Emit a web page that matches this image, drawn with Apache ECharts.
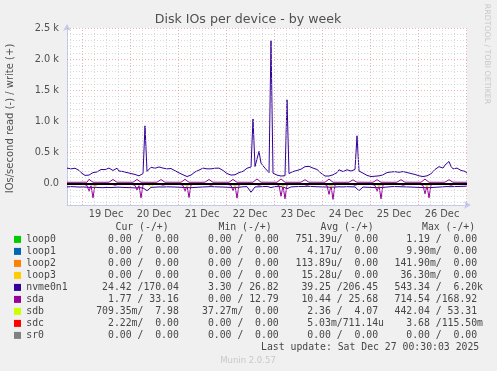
<!DOCTYPE html>
<html>
<head>
<meta charset="utf-8">
<script src="https://cdn.jsdelivr.net/npm/echarts@6/dist/echarts.min.js"></script>
<style>
html,body{margin:0;padding:0;background:#f0f0f0;}
#chart{width:497px;height:371px;}
</style>
</head>
<body>
<div id="chart"></div>
<script>
// ---------- data (hours since 18 Dec 16:30) ----------
const devices = ['loop0','loop1','loop2','loop3','nvme0n1','sda','sdb','sdc','sr0'];
const deviceColors = ['#00CC00','#0066B3','#FF8000','#FFCC00','#330099','#990099','#CCFF00','#FF0000','#808080'];

// nvme0n1 write (+), 1 h step
const nvmeWrite = [
252,252,240,225,250,278,215,180,150,135,
128,140,160,180,175,190,220,230,235,228,
240,252,230,214,240,250,205,197,197,185,
180,171,165,160,150,140,128,140,165,930,
200,230,265,289,250,235,270,265,252,235,
240,252,245,235,210,190,175,160,145,125,
117,125,140,170,190,200,220,240,252,230,
240,252,240,235,250,245,252,240,214,185,
165,150,140,128,145,165,180,190,200,225,
250,260,270,1040,278,290,520,332,290,250,
225,180,2295,171,150,140,128,125,128,130,
1348,165,185,197,210,214,220,235,252,275,
289,280,265,252,240,230,200,170,145,125,
117,125,135,144,160,180,225,210,197,215,
225,200,205,225,230,770,205,185,171,150,
135,120,117,128,122,117,128,135,144,165,
180,197,190,181,195,197,185,181,197,190,
181,171,165,160,150,144,128,122,117,125,
128,140,160,197,230,252,275,289,252,300,
332,358,278,240,230,252,225,214,225,200,171
];
// nvme0n1 read (-), 2 h step
const nvmeRead = [
-50,-45,-48,-52,-50,-55,-58,-56,-60,-62,
-58,-60,-56,-54,-58,-60,-62,-65,-62,-66,
-110,-58,-54,-50,-52,-48,-50,-52,-55,-58,
-60,-62,-58,-54,-50,-48,-45,-48,-50,-52,
-55,-58,-60,-55,-48,-45,-135,-50,-48,-45,
-42,-60,-44,-46,-48,-80,-50,-46,-44,-42,
-40,-42,-46,-48,-50,-52,-55,-52,-48,-50,
-46,-48,-50,-110,-52,-55,-58,-60,-62,-58,
-52,-46,-44,-46,-48,-50,-52,-55,-58,-60,
-62,-60,-56,-52,-48,-44,-46,-44,-42,-40,-38
];
// sda write (+), 1 h step
const sdaWrite = [
25,25,24,26,25,25,24,25,26,25,25,72,70,25,24,25,26,25,25,24,25,26,25,70,
72,25,24,26,25,25,24,25,26,25,25,70,72,25,24,25,26,25,25,24,25,26,25,68,
70,25,24,26,25,25,24,25,26,25,25,72,70,25,24,25,26,25,25,24,25,26,25,70,
68,25,24,26,25,25,24,25,26,25,25,70,72,25,24,25,26,25,25,24,25,26,25,78,
80,25,24,26,25,25,24,25,26,25,25,78,80,25,24,25,26,25,25,24,25,26,25,66,
64,25,24,26,25,25,24,25,26,25,25,76,78,25,24,25,26,25,25,24,25,26,25,64,
66,25,24,26,25,25,24,25,26,25,25,66,64,25,24,25,26,25,25,24,25,26,25,66,
64,25,24,26,25,25,24,25,26,25,25,76,78,25,24,25,26,25,25,24,25,26,25,66,
64,25,24,26,25,25,24,25,26
];
// sda read (-), 1 h step
const sdaRead = [
-5,-5,-6,-5,-4,-5,-6,-5,-5,-5,-25,-120,-30,-225,-15,-5,-6,-5,-4,-5,-5,-6,-5,-22,
-22,-5,-6,-5,-4,-5,-6,-5,-5,-5,-25,-100,-30,-225,-15,-5,-6,-5,-4,-5,-5,-6,-5,-22,
-22,-5,-6,-5,-4,-5,-6,-5,-5,-5,-25,-120,-30,-220,-15,-5,-6,-5,-4,-5,-5,-6,-5,-22,
-22,-5,-6,-5,-4,-5,-6,-5,-5,-5,-25,-110,-30,-230,-15,-5,-6,-5,-4,-5,-5,-6,-5,-22,
-22,-5,-6,-5,-4,-5,-6,-5,-5,-5,-25,-200,-30,-240,-15,-5,-6,-5,-4,-5,-5,-6,-5,-22,
-22,-5,-6,-5,-4,-5,-6,-5,-5,-5,-25,-170,-30,-250,-15,-5,-6,-5,-4,-5,-5,-6,-5,-22,
-22,-5,-6,-5,-4,-5,-6,-5,-5,-5,-25,-120,-30,-240,-15,-5,-6,-5,-4,-5,-5,-6,-5,-22,
-22,-5,-6,-5,-4,-5,-6,-5,-5,-5,-25,-160,-30,-225,-15,-5,-6,-5,-4,-5,-5,-6,-5,-22,
-22,-5,-6,-5,-4,-5,-6,-5,-5
];
// sdb read (-), 2 h step
const sdbRead = [
-2,-2,-2,-2,-2,-2,-2,-45,-2,-2,
-2,-2,-2,-2,-2,-2,-2,-2,-2,-2,
-2,-45,-2,-2,-2,-2,-2,-2,-2,-2,
-45,-2,-2,-2,-2,-2,-2,-2,-2,-2,
-2,-2,-45,-2,-2,-2,-2,-2,-2,-2,
-2,-2,-2,-2,-45,-2,-2,-2,-2,-2,
-2,-2,-2,-2,-2,-2,-45,-2,-2,-2,
-2,-2,-2,-2,-2,-2,-2,-2,-45,-2,
-2,-2,-2,-2,-2,-2,-2,-2,-2,-2,
-45,-2,-2,-2,-2,-2,-2,-2,-2,-2,-2
];
// flat devices: value at start and end of the week (200 h step)
const sdbWrite = [4, 4];
const sdcRead = [0, 0];
const sdcWrite = [1, 1];
const loopRead = [0, 0];
const loopWrite = [0, 0];
const sr0Values = [0, 0];

// axis ticks
const yTickValues = [0, 500, 1000, 1500, 2000, 2500];
const yTickLabels = ['0.0', '0.5 k', '1.0 k', '1.5 k', '2.0 k', '2.5 k'];
const xDayHours = [19.5, 43.5, 67.5, 91.5, 115.5, 139.5, 163.5, 187.5];
const xDayLabels = ['19 Dec', '20 Dec', '21 Dec', '22 Dec', '23 Dec', '24 Dec', '25 Dec', '26 Dec'];
const xMidnights = [7.5, 31.5, 55.5, 79.5, 103.5, 127.5, 151.5, 175.5, 199.5];

// legend table
const curCol = ['0.00 /  0.00','0.00 /  0.00','0.00 /  0.00','0.00 /  0.00','24.42 /170.04','1.77 / 33.16','709.35m/  7.98','2.22m/  0.00','0.00 /  0.00'];
const minCol = ['0.00 /  0.00','0.00 /  0.00','0.00 /  0.00','0.00 /  0.00','3.30 / 26.82','0.00 / 12.79','37.27m/  0.00','0.00 /  0.00','0.00 /  0.00'];
const avgCol = ['751.39u/  0.00','4.17u/  0.00','113.89u/  0.00','15.28u/  0.00','39.25 /206.45','10.44 / 25.68','2.36 /  4.07','5.03m/711.14u','0.00 /  0.00'];
const maxCol = ['1.19 /  0.00','9.90m/  0.00','141.90m/  0.00','36.30m/  0.00','543.34 /  6.20k','714.54 /168.92','442.04 / 53.31','3.68 /115.50m','0.00 /  0.00'];
const headers = ['Cur (-/+)', 'Min (-/+)', 'Avg (-/+)', 'Max (-/+)'];
const lastUpdate = 'Last update: Sat Dec 27 00:30:03 2025';

// ---------- chart ----------
function pts(values, step) { return values.map((v, i) => [i * step, v]); }

const minorGrid = 'rgba(185,185,185,0.55)';
const majorGrid = 'rgba(230,135,135,0.65)';
const gridMarks = [];
for (let v = -300; v <= 2500; v += 100) {
  const major = v % 500 === 0;
  gridMarks.push({ yAxis: v, lineStyle: { color: major ? majorGrid : minorGrid, type: [1, 2], width: 1 } });
}
for (let h = 1.5; h <= 200; h += 6) {
  const major = xMidnights.indexOf(h) >= 0;
  gridMarks.push({ xAxis: h, lineStyle: { color: major ? majorGrid : minorGrid, type: [1, 2], width: 1 } });
}

function line(name, data, color, extra) {
  return Object.assign({
    type: 'line', name: name, data: data, showSymbol: false, symbol: 'none',
    lineStyle: { color: color, width: 1 }, itemStyle: { color: color },
    silent: true, animation: false, z: 2
  }, extra || {});
}

const series = [
  line('grid', [[0, 0]], 'rgba(0,0,0,0)', {
    z: 1,
    markLine: { silent: true, symbol: 'none', label: { show: false }, animation: false, data: gridMarks }
  }),
  line('loop0', pts(loopRead, 200), deviceColors[0]),
  line('loop0', pts(loopWrite, 200), deviceColors[0]),
  line('loop1', pts(loopRead, 200), deviceColors[1]),
  line('loop1', pts(loopWrite, 200), deviceColors[1]),
  line('loop2', pts(loopRead, 200), deviceColors[2]),
  line('loop2', pts(loopWrite, 200), deviceColors[2]),
  line('loop3', pts(loopRead, 200), deviceColors[3]),
  line('loop3', pts(loopWrite, 200), deviceColors[3]),
  line('nvme0n1', pts(nvmeRead, 2), deviceColors[4]),
  line('nvme0n1', pts(nvmeWrite, 1), deviceColors[4]),
  line('sda', pts(sdaRead, 1), deviceColors[5]),
  line('sda', pts(sdaWrite, 1), deviceColors[5]),
  line('sdb', pts(sdbRead, 2), deviceColors[6]),
  line('sdb', pts(sdbWrite, 200), deviceColors[6]),
  line('sdc', pts(sdcRead, 200), deviceColors[7]),
  line('sdc', pts(sdcWrite, 200), deviceColors[7]),
  line('sr0', pts(sr0Values, 200), deviceColors[8]),
  line('zero', [[0, 0]], 'rgba(0,0,0,0)', {
    z: 3,
    markLine: { silent: true, symbol: 'none', label: { show: false }, animation: false,
      data: [{ yAxis: 0, lineStyle: { color: '#000', width: 2, type: 'solid' } }] }
  })
];

// legend graphics
const mono = 'DejaVu Sans Mono';
const fs = 9.8;
const txtColor = '#474747';
const graphics = [];
function T(text, x, y, align) {
  graphics.push({
    type: 'text', x: x, y: y, silent: true,
    style: { text: text, fill: txtColor, font: fs + 'px "' + mono + '"', textAlign: align || 'left', textVerticalAlign: 'middle' }
  });
}
const headerX = [115.5, 218.5, 320.5, 422];
headers.forEach((h, i) => T(h, headerX[i], 227.3, 'left'));
const slashX = [137.5, 237.4, 336.8, 435.8];
const cols = [curCol, minCol, avgCol, maxCol];
devices.forEach((d, r) => {
  const y = 239.4 + r * 12;
  graphics.push({ type: 'rect', silent: true, shape: { x: 14, y: y - 3.5, width: 7, height: 7 }, style: { fill: deviceColors[r] } });
  T(d, 26.3, y, 'left');
  cols.forEach((col, c) => {
    const s = col[r];
    const k = s.indexOf('/');
    T(s.slice(0, k), slashX[c], y, 'right');
    T(s.slice(k), slashX[c], y, 'left');
  });
});
T(lastUpdate, 261, 347.4, 'left');

graphics.push({ type: 'text', x: 248, y: 360.5, silent: true,
  style: { text: 'Munin 2.0.57', fill: '#c8c8c8', font: '8.5px "DejaVu Sans"', textAlign: 'center', textVerticalAlign: 'middle' } });
graphics.push({ type: 'text', x: 248, y: 19.5, silent: true,
  style: { text: 'Disk IOs per device - by week', fill: '#505050', font: '12.6px "DejaVu Sans"', textAlign: 'center', textVerticalAlign: 'middle' } });
graphics.push({ type: 'text', x: 10.5, y: 118.5, rotation: Math.PI / 2, silent: true,
  style: { text: 'IOs/second read (-) / write (+)', fill: '#505050', font: '10px "DejaVu Sans"', textAlign: 'center', textVerticalAlign: 'middle' } });
graphics.push({ type: 'text', x: 487, y: 54, rotation: -Math.PI / 2, silent: true,
  style: { text: 'RRDTOOL / TOBI OETIKER', fill: '#c8c8c8', font: '7.8px "DejaVu Sans"', textAlign: 'center', textVerticalAlign: 'middle' } });

const chart = echarts.init(document.getElementById('chart'), null, { renderer: 'canvas' });
chart.setOption({
  backgroundColor: '#f0f0f0',
  animation: false,
  grid: { left: 67, right: 30, top: 28, bottom: 166, show: true, backgroundColor: '#ffffff', borderWidth: 0, containLabel: false, outerBoundsMode: 'none' },
  xAxis: {
    type: 'value', min: 0, max: 200, interval: 0.5,
    axisLine: { show: true, onZero: false, lineStyle: { color: '#c4c9ee', width: 1 }, symbol: ['none', 'arrow'], symbolSize: [6, 7], symbolOffset: [0, 4] },
    axisTick: { show: false },
    splitLine: { show: false },
    axisLabel: {
      margin: 4, color: '#505050', fontFamily: 'DejaVu Sans', fontSize: 9.8,
      formatter: v => { const i = xDayHours.indexOf(Math.round(v * 2) / 2); return i >= 0 ? xDayLabels[i] : ''; }
    }
  },
  yAxis: {
    type: 'value', min: -340, max: 2500, interval: 20,
    axisLine: { show: true, onZero: false, lineStyle: { color: '#c4c9ee', width: 1 }, symbol: ['none', 'arrow'], symbolSize: [6, 7], symbolOffset: [0, 4] },
    axisTick: { show: false },
    splitLine: { show: false },
    axisLabel: {
      margin: 8, color: '#505050', fontFamily: 'DejaVu Sans', fontSize: 9.8,
      formatter: v => { const r = Math.round(v); const i = Math.abs(v - r) < 1e-6 ? yTickValues.indexOf(r) : -1; return i >= 0 ? yTickLabels[i] : ''; }
    }
  },
  series: series,
  graphic: { elements: graphics }
});
</script>
</body>
</html>
